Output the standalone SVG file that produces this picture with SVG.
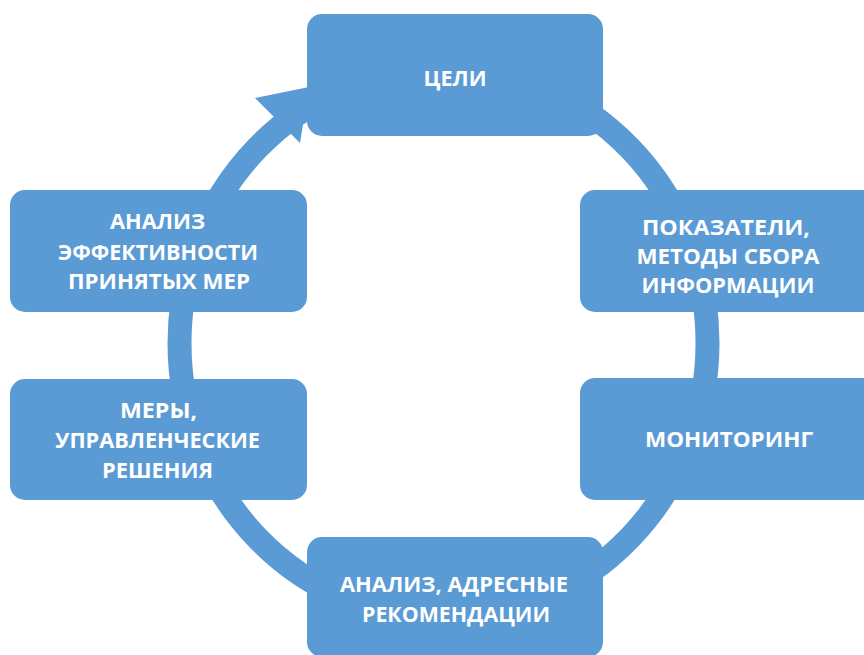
<svg xmlns="http://www.w3.org/2000/svg" width="864" height="655" viewBox="0 0 864 655">
<style>
.box{fill:#5B9BD5}
.t{fill:#FFFFFF;font-family:"Open Sans","Noto Sans","DejaVu Sans",sans-serif;font-weight:bold;font-size:21px;text-anchor:middle}
.ring{fill:none;stroke:#5B9BD5;stroke-width:24}
</style>
<rect width="864" height="655" fill="#FFFFFF"/>
<g id="connectors">
<ellipse class="ring" cx="443.5" cy="343" rx="264" ry="275"/>
<polygon points="255,98 309,87 300,143" fill="#5B9BD5"/>
</g>
<g id="n_goals">
<rect class="box" x="307" y="14" width="296" height="122" rx="15"/>
<text class="t" x="455" y="86" textLength="63" lengthAdjust="spacingAndGlyphs">ЦЕЛИ</text>
</g>
<g id="n_indicators">
<rect class="box" x="580" y="190" width="297" height="122" rx="15"/>
<text class="t" x="726" y="235" textLength="168" lengthAdjust="spacingAndGlyphs">ПОКАЗАТЕЛИ,</text>
<text class="t" x="728" y="264" textLength="183" lengthAdjust="spacingAndGlyphs">МЕТОДЫ СБОРА</text>
<text class="t" x="728" y="293" textLength="173" lengthAdjust="spacingAndGlyphs">ИНФОРМАЦИИ</text>
</g>
<g id="n_monitoring">
<rect class="box" x="580" y="378" width="297" height="122" rx="15"/>
<text class="t" x="729" y="447" textLength="168" lengthAdjust="spacingAndGlyphs">МОНИТОРИНГ</text>
</g>
<g id="n_analysis">
<rect class="box" x="307" y="537" width="296" height="120" rx="15"/>
<text class="t" x="454" y="592" textLength="228" lengthAdjust="spacingAndGlyphs">АНАЛИЗ, АДРЕСНЫЕ</text>
<text class="t" x="456" y="622" textLength="188" lengthAdjust="spacingAndGlyphs">РЕКОМЕНДАЦИИ</text>
</g>
<g id="n_measures">
<rect class="box" x="10" y="379" width="297" height="121" rx="15"/>
<text class="t" x="158.5" y="418" textLength="77" lengthAdjust="spacingAndGlyphs">МЕРЫ,</text>
<text class="t" x="157.5" y="448" textLength="205" lengthAdjust="spacingAndGlyphs">УПРАВЛЕНЧЕСКИЕ</text>
<text class="t" x="157.5" y="478" textLength="111" lengthAdjust="spacingAndGlyphs">РЕШЕНИЯ</text>
</g>
<g id="n_effectiveness">
<rect class="box" x="10" y="190" width="297" height="122" rx="15"/>
<text class="t" x="157.5" y="229" textLength="95" lengthAdjust="spacingAndGlyphs">АНАЛИЗ</text>
<text class="t" x="158" y="260" textLength="200" lengthAdjust="spacingAndGlyphs">ЭФФЕКТИВНОСТИ</text>
<text class="t" x="159" y="289" textLength="182" lengthAdjust="spacingAndGlyphs">ПРИНЯТЫХ МЕР</text>
</g>
</svg>
